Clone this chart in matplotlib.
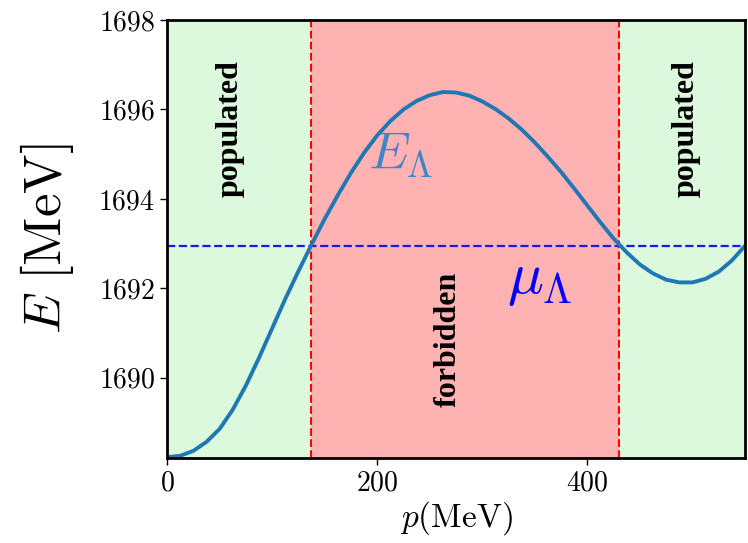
"""Lambda single-particle energy vs. momentum with populated / forbidden bands."""

import matplotlib
matplotlib.use("Agg")
import matplotlib.pyplot as plt

# E_Lambda(p) in MeV, sampled from the dispersion curve
p_mev = [0, 12.5, 25, 37.5, 50, 62.5, 75, 87.5, 100, 112.5, 125, 137,
         150, 162.5, 175, 187.5, 200, 212.5, 225, 237.5, 250, 262.5,
         275, 287.5, 300, 312.5, 325, 337.5, 350, 362.5, 375, 387.5,
         400, 412.5, 425, 437.5, 450, 462.5, 475, 487.5, 500, 512.5,
         525, 537.5, 550]
e_lambda = [1688.22, 1688.25, 1688.36, 1688.56, 1688.85, 1689.28, 1689.82,
            1690.44, 1691.10, 1691.76, 1692.38, 1692.95, 1693.55, 1694.08,
            1694.58, 1695.03, 1695.42, 1695.74, 1696.00, 1696.19, 1696.32,
            1696.39, 1696.38, 1696.31, 1696.18, 1696.01, 1695.80, 1695.55,
            1695.26, 1694.94, 1694.60, 1694.23, 1693.85, 1693.47, 1693.11,
            1692.80, 1692.53, 1692.33, 1692.19, 1692.13, 1692.13, 1692.21,
            1692.37, 1692.62, 1692.95]

mu_lambda = 1692.95          # chemical potential
p_edges = [137, 430]         # where E_Lambda crosses mu_Lambda
p_max = 550

xticks = [0, 200, 400]
yticks = [1690, 1692, 1694, 1696, 1698]
ylim = (1688.2, 1698)

plt.rcParams["mathtext.fontset"] = "cm"
plt.rcParams["font.family"] = "serif"
plt.rcParams["font.serif"] = ["cmr10", "DejaVu Serif"]
plt.rcParams["axes.formatter.use_mathtext"] = True


def shade_regions(ax):
    green, red = "lightgreen", "red"
    ax.axvspan(0, p_edges[0], color=green, alpha=0.3, lw=0)
    ax.axvspan(p_edges[0], p_edges[1], color=red, alpha=0.3, lw=0)
    ax.axvspan(p_edges[1], p_max, color=green, alpha=0.3, lw=0)
    for p in p_edges:
        ax.axvline(p, color="red", ls="--", lw=1.5)

    label_kw = dict(rotation=90, ha="center", va="center", fontsize=23,
                    fontweight="bold", family="Liberation Serif")
    ax.text(60, 1695.58, "populated", **label_kw)
    ax.text(494, 1695.58, "populated", **label_kw)
    ax.text(268, 1690.85, "forbidden", **label_kw)


fig = plt.figure(figsize=(7.48, 5.43), dpi=100)
ax = fig.add_axes([0.2233, 0.1565, 0.7727, 0.8065])

shade_regions(ax)
ax.axhline(mu_lambda, color="#1a1adf", ls="--", lw=1.6)
ax.plot(p_mev, e_lambda, color="#1f77b4", lw=2.8, solid_capstyle="round")

ax.text(222, 1694.98, r"$E_\Lambda$", color="#3f86c8", fontsize=38,
        ha="center", va="center")
ax.text(355, 1692.15, r"$\mu_\Lambda$", color="blue", fontsize=43,
        ha="center", va="center")

ax.set_xlim(0, p_max)
ax.set_ylim(*ylim)
ax.set_xticks(xticks)
ax.set_yticks(yticks)
ax.tick_params(labelsize=20, length=5, width=1, color="black")
for s in ax.spines.values():
    s.set_linewidth(2)

ax.set_xlabel(r"$p(\mathrm{MeV})$", fontsize=24, labelpad=2)
ax.set_ylabel(r"$E\ [\mathrm{MeV}]$", fontsize=38, labelpad=16)

fig.savefig("out.png", dpi=100)
